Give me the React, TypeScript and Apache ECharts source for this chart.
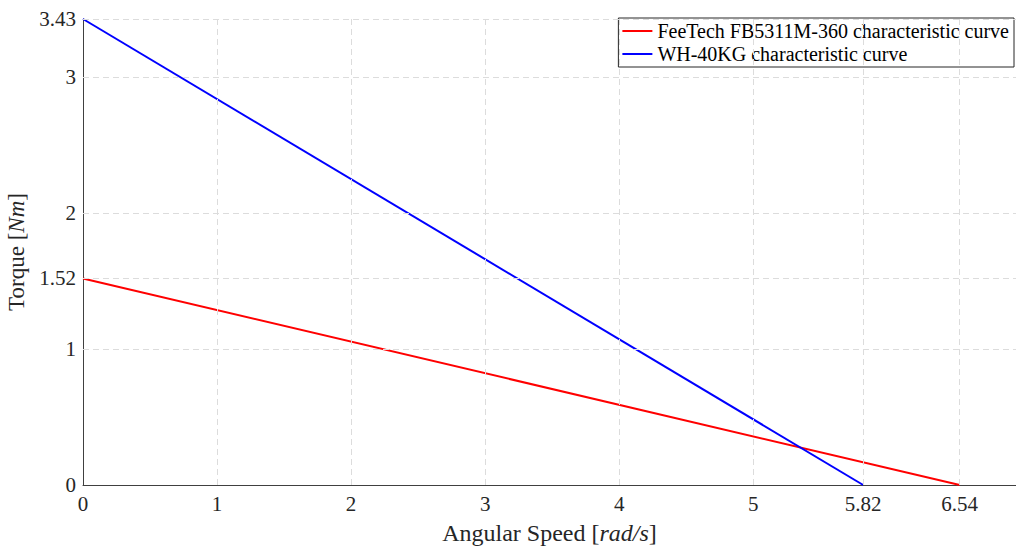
import React, { useEffect, useRef } from "react";
import * as echarts from "echarts";

const seriesNames = [
  "FeeTech FB5311M-360 characteristic curve",
  "WH-40KG characteristic curve",
];
const feetechPoints = [
  [0, 1.52],
  [6.54, 0],
];
const wh40Points = [
  [0, 3.43],
  [5.82, 0],
];
const xTicks = [0, 1, 2, 3, 4, 5, 5.82, 6.54];
const yTicks = [0, 1, 1.52, 2, 3, 3.43];
const xMax = 6.96;
const yMax = 3.43;

const FONT = "Liberation Serif";

export default function App() {
  const ref = useRef<HTMLDivElement>(null);
  useEffect(() => {
    if (!ref.current) return;
    const chart = echarts.init(ref.current, null, { renderer: "svg" });
    const gridStyle = { color: "#dcdcdc", width: 1, type: [6, 4] as any };
    const gridLines = [
      ...xTicks.filter((v) => v > 0).map((v) => ({ xAxis: v })),
      ...yTicks.filter((v) => v > 0).map((v) => ({ yAxis: v })),
    ];
    chart.setOption({
      animation: false,
      backgroundColor: "#ffffff",
      textStyle: { fontFamily: FONT },
      grid: { left: 83, right: 0, top: 19, bottom: 61, containLabel: false, outerBoundsMode: "none" },
      legend: {
        orient: "vertical",
        right: 2,
        top: 18,
        backgroundColor: "#ffffff",
        borderColor: "#262626",
        borderWidth: 1,
        borderRadius: 0,
        padding: [3, 5, 3, 4],
        itemGap: 3,
        itemWidth: 30,
        itemHeight: 2,
        icon: "rect",
        textStyle: { fontFamily: FONT, fontSize: 20, color: "#000000" },
        data: seriesNames,
      },
      xAxis: {
        type: "value",
        min: 0,
        max: xMax,
        name: "Angular Speed [{i|rad/s}]",
        nameLocation: "middle",
        nameGap: 36,
        nameTextStyle: {
          fontFamily: FONT,
          fontSize: 24,
          color: "#262626",
          rich: { i: { fontFamily: FONT, fontStyle: "italic", fontSize: 24, color: "#262626" } },
        },
        axisLine: { show: true, lineStyle: { color: "#404040", width: 1 } },
        axisTick: { show: true, inside: true, length: 6, customValues: xTicks, lineStyle: { color: "#404040" } },
        axisLabel: {
          customValues: xTicks,
          fontFamily: FONT,
          fontSize: 21,
          color: "#262626",
          margin: 8,
          formatter: (v: number) => String(v),
        },
        splitLine: { show: false },
      },
      yAxis: {
        type: "value",
        min: 0,
        max: yMax,
        name: "Torque [{i|Nm}]",
        nameLocation: "middle",
        nameGap: 50,
        nameRotate: 90,
        nameTextStyle: {
          fontFamily: FONT,
          fontSize: 23,
          color: "#262626",
          rich: { i: { fontFamily: FONT, fontStyle: "italic", fontSize: 23, color: "#262626" } },
        },
        axisLine: { show: true, lineStyle: { color: "#404040", width: 1 } },
        axisTick: { show: true, inside: true, length: 6, customValues: yTicks, lineStyle: { color: "#404040" } },
        axisLabel: {
          customValues: yTicks,
          fontFamily: FONT,
          fontSize: 21,
          color: "#262626",
          margin: 7,
          formatter: (v: number) => String(v),
        },
        splitLine: { show: false },
      },
      series: [
        {
          name: "grid",
          type: "line",
          data: [],
          z: 1,
          silent: true,
          markLine: {
            silent: true,
            symbol: ["none", "none"],
            label: { show: false },
            lineStyle: gridStyle,
            emphasis: { disabled: true },
            data: gridLines,
          },
        },
        {
          name: seriesNames[0],
          type: "line",
          data: feetechPoints,
          showSymbol: false,
          symbol: "none",
          z: 3,
          color: "#ff0000",
          lineStyle: { color: "#ff0000", width: 2 },
        },
        {
          name: seriesNames[1],
          type: "line",
          data: wh40Points,
          showSymbol: false,
          symbol: "none",
          z: 3,
          color: "#0000ff",
          lineStyle: { color: "#0000ff", width: 2 },
        },
      ],
    });
    return () => chart.dispose();
  }, []);
  return (
    <div
      ref={ref}
      style={{ position: "absolute", left: 0, top: 0, width: 1016, height: 546 }}
    />
  );
}
